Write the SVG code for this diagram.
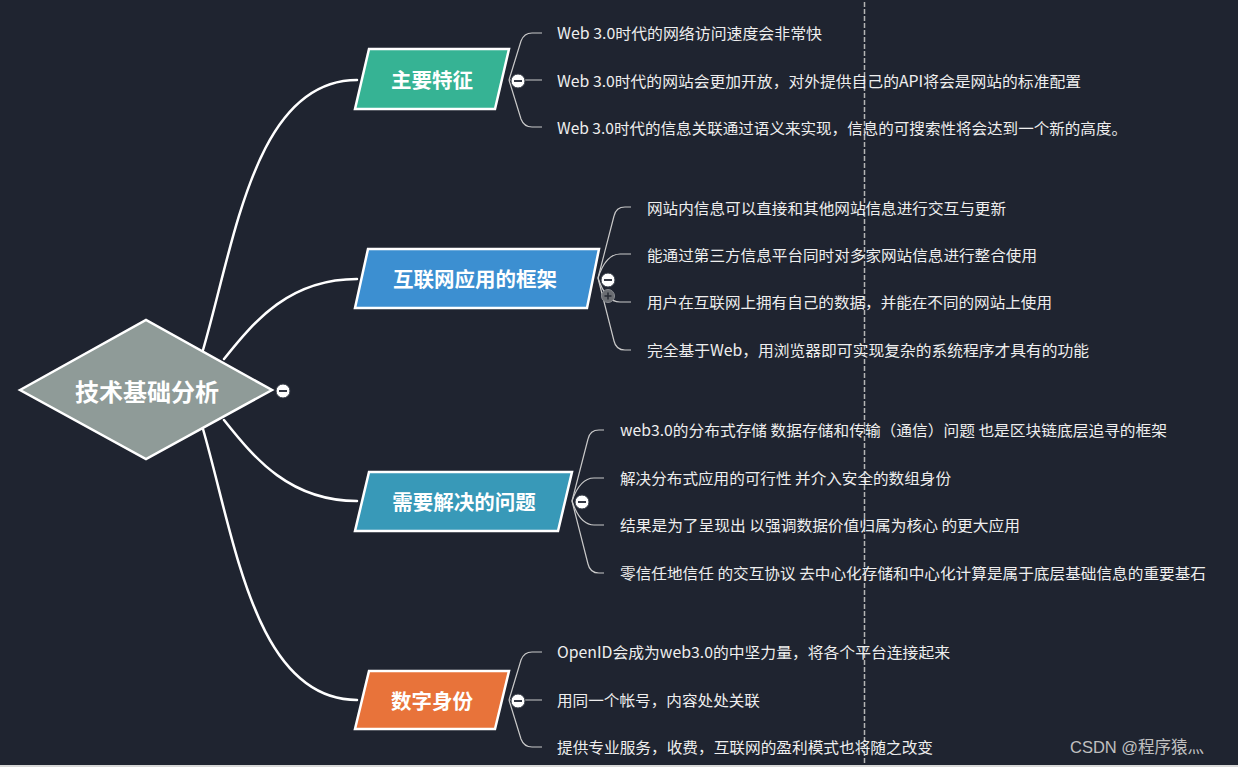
<svg xmlns="http://www.w3.org/2000/svg" width="1238" height="767" viewBox="0 0 1238 767">
<style>
.bg{fill:#1f2430}
.main{fill:none;stroke:#ffffff;stroke-width:2.5;stroke-linecap:round}
.sub{fill:none;stroke:#c9c9c9;stroke-width:1.2}
.box{stroke:#ffffff;stroke-width:2.5;stroke-linejoin:miter}
.btxt{font-family:"Noto Sans CJK SC","Noto Sans",sans-serif;font-weight:bold;font-size:20.5px;fill:#ffffff;text-anchor:middle;dominant-baseline:central}
.leaf{font-family:"Noto Sans CJK SC","Noto Sans",sans-serif;font-size:15.3px;fill:#eeeeee;dominant-baseline:central}
.tog{fill:#ffffff;stroke:#333a44;stroke-width:1}
.minus{stroke:#1f2430;stroke-width:1.8}
</style>
<rect class="bg" x="0" y="0" width="1238" height="767"/>
<rect x="0" y="765" width="1238" height="2" fill="#d8d8d8"/>
<line x1="864.5" y1="2" x2="864.5" y2="765" stroke="#b5b5b5" stroke-width="1.5" stroke-dasharray="5 2"/>

<g id="connectors">
  <path class="main" d="M203,350 C235,240 255,80 357,80"/>
  <path class="main" d="M224,359 C255,320 290,279 357,279"/>
  <path class="main" d="M224,420 C255,459 290,501 357,501"/>
  <path class="main" d="M203,429 C235,540 255,700 357,700"/>
  <!-- branch 1 -->
  <path class="sub" d="M509,80 L521,41 Q524,33 532,33 L542,33"/>
  <path class="sub" d="M509,80 L542,80"/>
  <path class="sub" d="M509,80 L521,119 Q524,127 532,127 L542,127"/>
  <!-- branch 2 -->
  <path class="sub" d="M598,278 L614,216 Q616,207 625,207 L631,207"/>
  <path class="sub" d="M598,278 Q606,254 620,254 L631,254"/>
  <path class="sub" d="M598,278 Q606,302 620,302 L631,302"/>
  <path class="sub" d="M598,278 L614,341 Q616,350 625,350 L631,350"/>
  <!-- branch 3 -->
  <path class="sub" d="M572,501 L588,439 Q590,430 599,430 L604,430"/>
  <path class="sub" d="M572,501 Q580,478 594,478 L604,478"/>
  <path class="sub" d="M572,501 Q580,525 594,525 L604,525"/>
  <path class="sub" d="M572,501 L588,564 Q590,573 599,573 L604,573"/>
  <!-- branch 4 -->
  <path class="sub" d="M509,700 L521,660 Q524,652 532,652 L542,652"/>
  <path class="sub" d="M509,700 L542,700"/>
  <path class="sub" d="M509,700 L521,739 Q524,747 532,747 L542,747"/>
</g>

<g id="root">
  <polygon points="20,390 146,320 272,390 146,459" fill="#8f9b98" stroke="#ffffff" stroke-width="2.5"/>
  <text x="147" y="390" font-family="Noto Sans CJK SC,sans-serif" font-weight="bold" font-size="24" fill="#ffffff" text-anchor="middle" dominant-baseline="central">技术基础分析</text>
  <circle class="tog" cx="283" cy="391" r="7"/>
  <line class="minus" x1="279" y1="391" x2="287" y2="391"/>
</g>

<g id="b1">
  <polygon class="box" points="369,49 509,49 495,109 355,109" fill="#36b394"/>
  <text class="btxt" x="432" y="79">主要特征</text>
  <circle class="tog" cx="518" cy="81" r="7"/>
  <line class="minus" x1="514" y1="81" x2="522" y2="81"/>
</g>
<g id="b1-leaves">
  <text class="leaf" x="557" y="32" textLength="265" lengthAdjust="spacingAndGlyphs">Web 3.0时代的网络访问速度会非常快</text>
  <text class="leaf" x="557" y="80" textLength="524" lengthAdjust="spacingAndGlyphs">Web 3.0时代的网站会更加开放，对外提供自己的API将会是网站的标准配置</text>
  <text class="leaf" x="557" y="127" textLength="570" lengthAdjust="spacingAndGlyphs">Web 3.0时代的信息关联通过语义来实现，信息的可搜索性将会达到一个新的高度。</text>
</g>

<g id="b2">
  <polygon class="box" points="368,249 599,249 587,308 355,308" fill="#3c8fd1"/>
  <text class="btxt" x="475" y="278">互联网应用的框架</text>
  <circle cx="608" cy="296" r="6.5" fill="#6a6d72" stroke="#8a8d92" stroke-width="1"/>
  <line x1="604.5" y1="296" x2="611.5" y2="296" stroke="#2a2e36" stroke-width="1.6"/>
  <line x1="608" y1="292.5" x2="608" y2="299.5" stroke="#2a2e36" stroke-width="1.6"/>
  <circle class="tog" cx="608" cy="280" r="7"/>
  <line class="minus" x1="604" y1="280" x2="612" y2="280"/>
</g>
<g id="b2-leaves">
  <text class="leaf" x="647" y="207" textLength="359" lengthAdjust="spacingAndGlyphs">网站内信息可以直接和其他网站信息进行交互与更新</text>
  <text class="leaf" x="647" y="254" textLength="390" lengthAdjust="spacingAndGlyphs">能通过第三方信息平台同时对多家网站信息进行整合使用</text>
  <text class="leaf" x="647" y="301" textLength="405" lengthAdjust="spacingAndGlyphs">用户在互联网上拥有自己的数据，并能在不同的网站上使用</text>
  <text class="leaf" x="647" y="349" textLength="442" lengthAdjust="spacingAndGlyphs">完全基于Web，用浏览器即可实现复杂的系统程序才具有的功能</text>
</g>

<g id="b3">
  <polygon class="box" points="369,472 572,472 558,531 355,531" fill="#3899b8"/>
  <text class="btxt" x="464" y="501">需要解决的问题</text>
  <circle class="tog" cx="582" cy="502" r="7"/>
  <line class="minus" x1="578" y1="502" x2="586" y2="502"/>
</g>
<g id="b3-leaves">
  <text class="leaf" x="620" y="429" textLength="547" lengthAdjust="spacingAndGlyphs">web3.0的分布式存储 数据存储和传输（通信）问题 也是区块链底层追寻的框架</text>
  <text class="leaf" x="620" y="477" textLength="331" lengthAdjust="spacingAndGlyphs">解决分布式应用的可行性 并介入安全的数组身份</text>
  <text class="leaf" x="620" y="524" textLength="400" lengthAdjust="spacingAndGlyphs">结果是为了呈现出 以强调数据价值归属为核心 的更大应用</text>
  <text class="leaf" x="620" y="572" textLength="586" lengthAdjust="spacingAndGlyphs">零信任地信任 的交互协议 去中心化存储和中心化计算是属于底层基础信息的重要基石</text>
</g>

<g id="b4">
  <polygon class="box" points="369,671 509,671 495,729 355,729" fill="#e8733a"/>
  <text class="btxt" x="432" y="700">数字身份</text>
  <circle class="tog" cx="518" cy="701" r="7"/>
  <line class="minus" x1="514" y1="701" x2="522" y2="701"/>
</g>
<g id="b4-leaves">
  <text class="leaf" x="557" y="651" textLength="393" lengthAdjust="spacingAndGlyphs">OpenID会成为web3.0的中坚力量，将各个平台连接起来</text>
  <text class="leaf" x="557" y="699" textLength="203" lengthAdjust="spacingAndGlyphs">用同一个帐号，内容处处关联</text>
  <text class="leaf" x="557" y="746" textLength="376" lengthAdjust="spacingAndGlyphs">提供专业服务，收费，互联网的盈利模式也将随之改变</text>
</g>

<text x="1070" y="747" font-family="Liberation Sans,Noto Sans CJK SC,sans-serif" font-size="16.5" fill="#c0c0c0" dominant-baseline="central">CSDN @程序猿灬</text>
</svg>
